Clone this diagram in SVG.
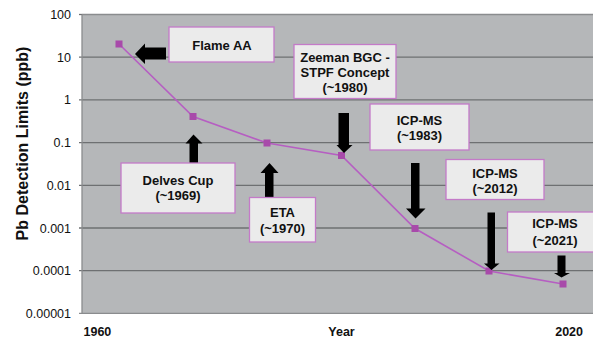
<svg xmlns="http://www.w3.org/2000/svg" width="593" height="342" viewBox="0 0 593 342">
<style>
.tick{font-family:"Liberation Sans",Arial,sans-serif;font-size:12.5px;fill:#111;text-anchor:end}
.ax{font-family:"Liberation Sans",Arial,sans-serif;font-size:12.5px;font-weight:bold;fill:#111}
.lbl{font-family:"Liberation Sans",Arial,sans-serif;font-size:13px;font-weight:bold;fill:#111;text-anchor:middle}
.grid{stroke:#6e7072;stroke-width:1.3}
.box{fill:#ebebeb;stroke:#c47ac8;stroke-width:1.3}
.arr{fill:#000}
.pt{fill:#a84aaa}
</style>
<rect x="0" y="0" width="593" height="342" fill="#fff"/>
<g id="plot">
<rect x="82" y="14.5" width="511" height="299" fill="#b5b7b9"/>
<g class="grid">
<line x1="82" y1="14.5" x2="593" y2="14.5" stroke="#8a8c8e"/>
<line x1="79" y1="57.2" x2="593" y2="57.2"/>
<line x1="79" y1="99.9" x2="593" y2="99.9"/>
<line x1="79" y1="142.6" x2="593" y2="142.6"/>
<line x1="79" y1="185.3" x2="593" y2="185.3"/>
<line x1="79" y1="228" x2="593" y2="228"/>
<line x1="79" y1="270.7" x2="593" y2="270.7"/>
<line x1="79" y1="313.4" x2="593" y2="313.4" stroke="#8a8c8e"/>
<line x1="79" y1="14.5" x2="82" y2="14.5"/>
<line x1="82" y1="14.5" x2="82" y2="313.4" stroke="#8a8c8e"/>
</g>
</g>
<g id="yticks">
<text class="tick" x="71" y="19">100</text>
<text class="tick" x="71" y="61.7">10</text>
<text class="tick" x="71" y="104.4">1</text>
<text class="tick" x="71" y="147.1">0.1</text>
<text class="tick" x="71" y="189.8">0.01</text>
<text class="tick" x="71" y="232.5">0.001</text>
<text class="tick" x="71" y="275.2">0.0001</text>
<text class="tick" x="71" y="317.9">0.00001</text>
</g>
<g id="axis-labels">
<text class="ax" x="83.5" y="336">1960</text>
<text class="ax" x="341.5" y="336" text-anchor="middle">Year</text>
<text class="ax" x="583" y="336" text-anchor="end">2020</text>
<text x="27.5" y="143.5" transform="rotate(-90 27.5 143.5)" font-family="Liberation Sans,Arial,sans-serif" font-size="16px" font-weight="bold" fill="#111" text-anchor="middle">Pb Detection Limits (ppb)</text>
</g>
<g id="series">
<polyline points="119,44 193,116.5 267,143 341.5,155.5 415,228.5 489,271 563,284" fill="none" stroke="#b65ec2" stroke-width="1.6"/>
<rect class="pt" x="115.5" y="40.5" width="7" height="7"/>
<rect class="pt" x="189.5" y="113" width="7" height="7"/>
<rect class="pt" x="263.5" y="139.5" width="7" height="7"/>
<rect class="pt" x="338" y="152" width="7" height="7"/>
<rect class="pt" x="411.5" y="225" width="7" height="7"/>
<rect class="pt" x="485.5" y="267.5" width="7" height="7"/>
<rect class="pt" x="559.5" y="280.5" width="7" height="7"/>
</g>
<g id="connectors">
<polygon class="arr" points="135,54 145,43.5 145,47.5 166,47.5 166,59.5 145,59.5 145,64"/>
<polygon class="arr" points="193.5,134.5 202.5,143.5 198,143.5 198,163 189.5,163 189.5,143.5 185.5,143.5"/>
<polygon class="arr" points="269.5,163 278.5,173 273.5,173 273.5,197 265,197 265,173 260.5,173"/>
<polygon class="arr" points="338.5,113 349,113 349,145 352.5,145 344,153 336.5,145 338.5,145"/>
<polygon class="arr" points="411,163 419.5,163 419.5,208.5 425.5,208.5 415.5,218.5 406,208.5 411,208.5"/>
<polygon class="arr" points="487.5,212.5 495,212.5 495,263.5 499.5,263.5 491.5,270 484,263.5 487.5,263.5"/>
<polygon class="arr" points="557.5,255.5 565.5,255.5 565.5,273 570,273 561.5,277.5 554,273 557.5,273"/>
</g>
<g id="flame-aa">
<rect class="box" x="169" y="27" width="105" height="35"/>
<text class="lbl" x="222" y="49.5">Flame AA</text>
</g>
<g id="zeeman">
<rect class="box" x="294" y="44.5" width="102" height="54"/>
<text class="lbl" x="345" y="61.5">Zeeman BGC -</text>
<text class="lbl" x="345" y="76.5">STPF Concept</text>
<text class="lbl" x="345" y="91.5">(~1980)</text>
</g>
<g id="icpms-1983">
<rect class="box" x="370" y="104" width="99" height="46"/>
<text class="lbl" x="419.5" y="124.5">ICP-MS</text>
<text class="lbl" x="419.5" y="139.5">(~1983)</text>
</g>
<g id="icpms-2012">
<rect class="box" x="446" y="159.5" width="98" height="40"/>
<text class="lbl" x="495" y="177.5">ICP-MS</text>
<text class="lbl" x="495" y="192.5">(~2012)</text>
</g>
<g id="icpms-2021">
<rect class="box" x="507.5" y="212" width="90" height="40"/>
<text class="lbl" x="555" y="228">ICP-MS</text>
<text class="lbl" x="555" y="244.5">(~2021)</text>
</g>
<g id="delves-cup">
<rect class="box" x="121" y="163" width="114" height="50"/>
<text class="lbl" x="178" y="184.5">Delves Cup</text>
<text class="lbl" x="178" y="199.5">(~1969)</text>
</g>
<g id="eta">
<rect class="box" x="249.5" y="197.5" width="66" height="44.5"/>
<text class="lbl" x="282.5" y="216.5">ETA</text>
<text class="lbl" x="282.5" y="232.5">(~1970)</text>
</g>
</svg>
